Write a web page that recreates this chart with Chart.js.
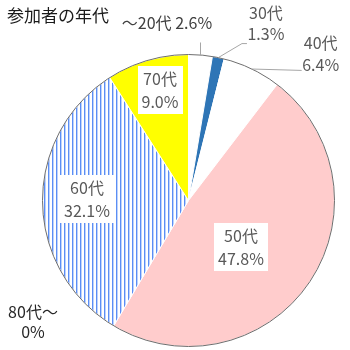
<!DOCTYPE html>
<html>
<head>
<meta charset="utf-8">
<script src="https://cdn.jsdelivr.net/npm/chart.js@4/dist/chart.umd.min.js"></script>
<style>
  html, body { margin: 0; padding: 0; background: #ffffff; }
  #wrap { width: 350px; height: 350px; position: relative; }
</style>
</head>
<body>
<div id="wrap"><canvas id="c" width="350" height="350"></canvas></div>
<script>
// ---- data ----
const chartTitle = '参加者の年代';
const categories = ['～20代', '30代', '40代', '50代', '60代', '70代', '80代～'];
const percents = [2.6, 1.3, 6.4, 47.8, 32.1, 9.0, 0];
const percentLabels = ['2.6%', '1.3%', '6.4%', '47.8%', '32.1%', '9.0%', '0%'];

// ---- styles ----
function stripePattern() {
  const p = document.createElement('canvas');
  p.width = 4; p.height = 4;
  const g = p.getContext('2d');
  g.fillStyle = '#ffffff';
  g.fillRect(0, 0, 4, 4);
  g.fillStyle = '#5b8ef5';
  g.fillRect(0, 0, 1.4, 4);
  return g.createPattern(p, 'repeat');
}
const sliceColors = ['#ffffff', '#2e75b6', '#ffffff', '#ffcccc', stripePattern(), '#ffff00', '#ffffff'];
const FONT = '"Noto Sans CJK JP", "Noto Sans", sans-serif';
const labelColor = '#595959';

// label placement (relative offsets, px)
const labelStyle = [
  { kind: 'out', leader: [[0, -12.5]], single: true, tx: -33.5, ty: [-32.5], color: '#404040' },
  { kind: 'out', leader: [[23.6, -14], [28.6, -14]], tx: 47.6, ty: [-45, -24] },
  { kind: 'out', leader: [[49.7, 1.4]], tx: 68.7, ty: [-25.6, -3.6] },
  { kind: 'in', cx: 52.5, cy: 46.5 },
  { kind: 'in', cx: -101.5, cy: -1.5 },
  { kind: 'in', cx: -28.5, cy: -110.5 },
  { kind: 'free', cx: -155.5, ty: [111.5, 131.5], color: '#262626' }
];

const labelPlugin = {
  id: 'labelPlugin',
  afterDatasetsDraw(chart) {
    const ctx = chart.ctx;
    const meta = chart.getDatasetMeta(0);
    const arcs = meta.data;
    const cx0 = arcs[0].x, cy0 = arcs[0].y, R = arcs[0].outerRadius;

    // outer outline
    ctx.save();
    ctx.beginPath();
    ctx.arc(cx0, cy0, R, 0, Math.PI * 2);
    ctx.strokeStyle = '#6e6e6e';
    ctx.lineWidth = 1;
    ctx.stroke();
    ctx.restore();

    // title
    ctx.save();
    ctx.font = '17px ' + FONT;
    ctx.fillStyle = '#1a1a1a';
    ctx.textAlign = 'left';
    ctx.textBaseline = 'middle';
    ctx.fillText(chartTitle, 7, 16);
    ctx.restore();

    ctx.save();
    ctx.font = '16px ' + FONT;
    ctx.textBaseline = 'middle';
    ctx.textAlign = 'center';
    arcs.forEach((arc, i) => {
      const st = labelStyle[i];
      const mid = (arc.startAngle + arc.endAngle) / 2;
      const px = arc.x + Math.cos(mid) * arc.outerRadius;
      const py = arc.y + Math.sin(mid) * arc.outerRadius;
      ctx.fillStyle = st.color || labelColor;
      if (st.kind === 'out') {
        ctx.beginPath();
        ctx.moveTo(px, py);
        st.leader.forEach(p => ctx.lineTo(px + p[0], py + p[1]));
        ctx.strokeStyle = '#a6a6a6';
        ctx.lineWidth = 1;
        ctx.stroke();
        if (st.single) {
          ctx.fillText(categories[i] + ' ' + percentLabels[i], px + st.tx, py + st.ty[0]);
        } else {
          ctx.fillText(categories[i], px + st.tx, py + st.ty[0]);
          ctx.fillText(percentLabels[i], px + st.tx, py + st.ty[1]);
        }
      } else if (st.kind === 'in') {
        const x = arc.x + st.cx, y = arc.y + st.cy;
        const w = Math.max(ctx.measureText(categories[i]).width, ctx.measureText(percentLabels[i]).width) + 8;
        const h = 48;
        ctx.fillStyle = '#ffffff';
        ctx.fillRect(Math.round(x - w / 2), Math.round(y - h / 2), Math.round(w), h);
        ctx.fillStyle = labelColor;
        ctx.fillText(categories[i], x, y - 11.5);
        ctx.fillText(percentLabels[i], x, y + 11.5);
      } else {
        ctx.fillText(categories[i], cx0 + st.cx, cy0 + st.ty[0] - 0);
        ctx.fillText(percentLabels[i], cx0 + st.cx, cy0 + st.ty[1]);
      }
    });
    ctx.restore();
  }
};

new Chart(document.getElementById('c'), {
  type: 'pie',
  data: {
    labels: categories,
    datasets: [{
      data: percents,
      backgroundColor: sliceColors,
      borderColor: '#ffffff',
      borderWidth: 1
    }]
  },
  options: {
    responsive: false,
    animation: false,
    devicePixelRatio: 1,
    layout: { padding: { left: 42, right: 15, top: 54, bottom: 3 } },
    plugins: {
      legend: { display: false },
      tooltip: { enabled: false },
      title: { display: false }
    }
  },
  plugins: [labelPlugin]
});
</script>
</body>
</html>
